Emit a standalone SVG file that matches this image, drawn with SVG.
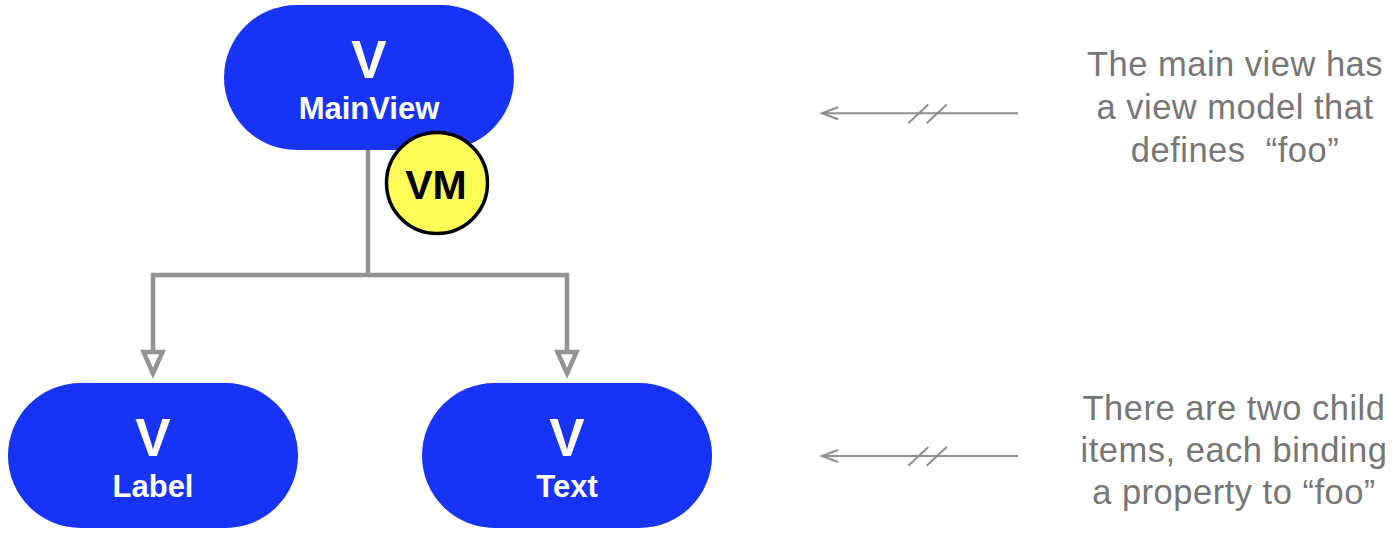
<svg xmlns="http://www.w3.org/2000/svg" width="1398" height="538" viewBox="0 0 1398 538">
  <style>
    .pill { fill: #1733F5; }
    .big { font-family: "Liberation Sans", Arial, sans-serif; font-weight: bold; font-size: 53px; fill: #ffffff; text-anchor: middle; }
    .name { font-family: "Liberation Sans", Arial, sans-serif; font-weight: bold; font-size: 31px; fill: #ffffff; text-anchor: middle; }
    .vm { font-family: "Liberation Sans", Arial, sans-serif; font-weight: bold; font-size: 41px; fill: #000000; text-anchor: middle; }
    .note { font-family: "Liberation Sans", Arial, sans-serif; font-size: 34.5px; fill: #767676; text-anchor: middle; letter-spacing: 0.5px; white-space: pre; }
    .tree { fill: none; stroke: #939393; stroke-width: 4.5; stroke-linejoin: miter; }
    .thin { fill: none; stroke: #8f8f8f; stroke-width: 2; }
  </style>
  <defs>
    <marker id="openTri" markerUnits="userSpaceOnUse" markerWidth="40" markerHeight="40" refX="0" refY="0" orient="auto" viewBox="-5 -15 40 30" overflow="visible">
      <path d="M0,-9.5 L21.5,0 L0,9.5 Z" fill="#ffffff" stroke="#939393" stroke-width="4.5" stroke-linejoin="miter"/>
    </marker>
    <marker id="openV" markerUnits="userSpaceOnUse" markerWidth="30" markerHeight="30" refX="0" refY="0" orient="auto" viewBox="-20 -10 30 20" overflow="visible">
      <path d="M-16,-6 L0,0 L-16,6" fill="none" stroke="#8f8f8f" stroke-width="2"/>
    </marker>
  </defs>
  <rect width="1398" height="538" fill="#ffffff"/>

  <g id="connectors">
    <path class="tree" d="M368,150 V275 H153 V352" marker-end="url(#openTri)"/>
    <path class="tree" d="M368,275 H567 V352" marker-end="url(#openTri)"/>
    <path class="thin" d="M1018,113.3 H822" marker-end="url(#openV)"/>
    <path class="thin" d="M908.3,123.3 L928.3,104.5 M926.7,123.3 L946.7,104.5"/>
    <path class="thin" d="M1018,456 H822" marker-end="url(#openV)"/>
    <path class="thin" d="M908.3,465.7 L928.3,447 M926.7,465.7 L946.7,447"/>
  </g>

  <g id="node-mainview">
    <rect class="pill" x="224" y="5" width="290" height="145" rx="72.5" ry="72.5"/>
    <text class="big" x="369" y="78">V</text>
    <text class="name" x="369" y="119">MainView</text>
  </g>

  <g id="node-vm">
    <circle cx="437" cy="183" r="50.5" fill="#FFFD55" stroke="#000000" stroke-width="3.5"/>
    <text class="vm" x="436" y="199">VM</text>
  </g>

  <g id="node-label">
    <rect class="pill" x="8" y="383" width="290" height="145" rx="72.5" ry="72.5"/>
    <text class="big" x="153" y="456">V</text>
    <text class="name" x="153" y="497">Label</text>
  </g>

  <g id="node-text">
    <rect class="pill" x="422" y="383" width="290" height="145" rx="72.5" ry="72.5"/>
    <text class="big" x="567" y="456">V</text>
    <text class="name" x="567" y="497">Text</text>
  </g>

  <g id="note-main">
    <text class="note" x="1235" y="76">The main view has</text>
    <text class="note" x="1235" y="119">a view model that</text>
    <text class="note" x="1235" y="162" xml:space="preserve">defines  “foo”</text>
  </g>

  <g id="note-children">
    <text class="note" x="1234" y="420" fill="#6e6e6e">There are two child</text>
    <text class="note" x="1234" y="462">items, each binding</text>
    <text class="note" x="1234" y="504">a property to “foo”</text>
  </g>
</svg>
